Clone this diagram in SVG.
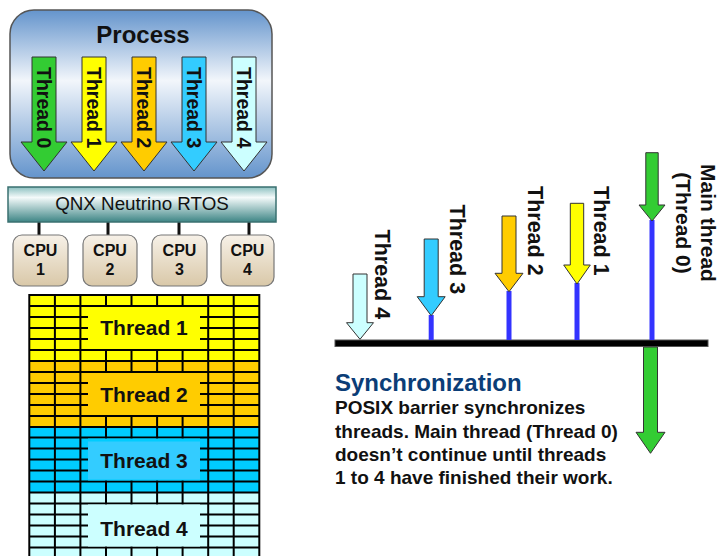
<svg xmlns="http://www.w3.org/2000/svg" width="719" height="556" viewBox="0 0 719 556">
<defs>
<linearGradient id="gProc" x1="0" y1="0" x2="0" y2="1">
<stop offset="0" stop-color="#6494cc"/>
<stop offset="0.42" stop-color="#f2f6fb"/>
<stop offset="1" stop-color="#6494cc"/>
</linearGradient>
<linearGradient id="gRtos" x1="0" y1="0" x2="0" y2="1">
<stop offset="0" stop-color="#8cc0c0"/>
<stop offset="0.3" stop-color="#f4fafa"/>
<stop offset="1" stop-color="#3d8585"/>
</linearGradient>
<linearGradient id="gCpu" x1="0" y1="0" x2="0" y2="1">
<stop offset="0" stop-color="#f7f1e8"/>
<stop offset="1" stop-color="#d9c8a8"/>
</linearGradient>
</defs>
<style>
.b{font-family:"Liberation Sans",Arial,sans-serif;font-weight:bold;fill:#111}
.r{font-family:"Liberation Sans",Arial,sans-serif;fill:#111}
.arr{stroke:#333;stroke-width:1}
.grid line{stroke:#000;stroke-width:2}
.blue{stroke:#3333ff;stroke-width:5}
</style>

<g id="process">
<rect x="10" y="10" width="262" height="168" rx="24" fill="url(#gProc)" stroke="#555" stroke-width="1.5"/>
<text class="b" x="143" y="43" font-size="24" text-anchor="middle">Process</text>
</g>
<g id="proc-thread0">
<path class="arr" fill="#33cc33" d="M32,57H56V142H67L44,171L21,142H32Z"/>
<text class="b" font-size="19.5" transform="translate(37,67) rotate(90)">Thread 0</text>
</g>
<g id="proc-thread1">
<path class="arr" fill="#ffff00" d="M82,57H106V142H117L94,171L71,142H82Z"/>
<text class="b" font-size="19.5" transform="translate(87,67) rotate(90)">Thread 1</text>
</g>
<g id="proc-thread2">
<path class="arr" fill="#ffcc00" d="M132,57H156V142H167L144,171L121,142H132Z"/>
<text class="b" font-size="19.5" transform="translate(137,67) rotate(90)">Thread 2</text>
</g>
<g id="proc-thread3">
<path class="arr" fill="#33ccff" d="M182,57H206V142H217L194,171L171,142H182Z"/>
<text class="b" font-size="19.5" transform="translate(187,67) rotate(90)">Thread 3</text>
</g>
<g id="proc-thread4">
<path class="arr" fill="#ccffff" d="M232,57H256V142H267L244,171L221,142H232Z"/>
<text class="b" font-size="19.5" transform="translate(237,67) rotate(90)">Thread 4</text>
</g>

<g id="connectors">
<line x1="39" y1="222" x2="39" y2="235" stroke="#111" stroke-width="3"/>
<line x1="108" y1="222" x2="108" y2="235" stroke="#111" stroke-width="3"/>
<line x1="179" y1="222" x2="179" y2="235" stroke="#111" stroke-width="3"/>
<line x1="249" y1="222" x2="249" y2="235" stroke="#111" stroke-width="3"/>
</g>

<g id="rtos">
<rect x="8" y="187" width="268" height="35" fill="url(#gRtos)" stroke="#3a7070" stroke-width="1.5"/>
<text class="r" x="142" y="210" font-size="18.8" text-anchor="middle">QNX Neutrino RTOS</text>
</g>

<g id="cpu1">
<rect x="13" y="235" width="55" height="51" rx="9" fill="url(#gCpu)" stroke="#777" stroke-width="1.2"/>
<text class="b" x="40.5" y="256" font-size="16" text-anchor="middle">CPU</text>
<text class="b" x="40.5" y="275" font-size="16" text-anchor="middle">1</text>
</g>
<g id="cpu2">
<rect x="83" y="235" width="54" height="51" rx="9" fill="url(#gCpu)" stroke="#777" stroke-width="1.2"/>
<text class="b" x="110" y="256" font-size="16" text-anchor="middle">CPU</text>
<text class="b" x="110" y="275" font-size="16" text-anchor="middle">2</text>
</g>
<g id="cpu3">
<rect x="152" y="235" width="55" height="51" rx="9" fill="url(#gCpu)" stroke="#777" stroke-width="1.2"/>
<text class="b" x="179.5" y="256" font-size="16" text-anchor="middle">CPU</text>
<text class="b" x="179.5" y="275" font-size="16" text-anchor="middle">3</text>
</g>
<g id="cpu4">
<rect x="221" y="235" width="53" height="51" rx="9" fill="url(#gCpu)" stroke="#777" stroke-width="1.2"/>
<text class="b" x="247.5" y="256" font-size="16" text-anchor="middle">CPU</text>
<text class="b" x="247.5" y="275" font-size="16" text-anchor="middle">4</text>
</g>

<g id="schedule">
<rect x="29" y="295" width="230" height="66" fill="#ffff00"/>
<rect x="29" y="361" width="230" height="66" fill="#ffcc00"/>
<rect x="29" y="427" width="230" height="66" fill="#00ccff"/>
<rect x="29" y="493" width="230" height="66" fill="#ccffff"/>
<g class="grid">
<line x1="29.3" y1="294" x2="29.3" y2="556"/>
<line x1="54.9" y1="294" x2="54.9" y2="556"/>
<line x1="80.4" y1="294" x2="80.4" y2="556"/>
<line x1="106" y1="294" x2="106" y2="556"/>
<line x1="131.5" y1="294" x2="131.5" y2="556"/>
<line x1="157.1" y1="294" x2="157.1" y2="556"/>
<line x1="182.6" y1="294" x2="182.6" y2="556"/>
<line x1="208.2" y1="294" x2="208.2" y2="556"/>
<line x1="233.7" y1="294" x2="233.7" y2="556"/>
<line x1="259.3" y1="294" x2="259.3" y2="556"/>
<line x1="29" y1="295" x2="260" y2="295"/>
<line x1="29" y1="306" x2="260" y2="306"/>
<line x1="29" y1="317" x2="260" y2="317"/>
<line x1="29" y1="328" x2="260" y2="328"/>
<line x1="29" y1="339" x2="260" y2="339"/>
<line x1="29" y1="350" x2="260" y2="350"/>
<line x1="29" y1="361" x2="260" y2="361"/>
<line x1="29" y1="372" x2="260" y2="372"/>
<line x1="29" y1="383" x2="260" y2="383"/>
<line x1="29" y1="394" x2="260" y2="394"/>
<line x1="29" y1="405" x2="260" y2="405"/>
<line x1="29" y1="416" x2="260" y2="416"/>
<line x1="29" y1="427" x2="260" y2="427"/>
<line x1="29" y1="437.5" x2="260" y2="437.5"/>
<line x1="29" y1="448.5" x2="260" y2="448.5"/>
<line x1="29" y1="459.5" x2="260" y2="459.5"/>
<line x1="29" y1="470.5" x2="260" y2="470.5"/>
<line x1="29" y1="481.5" x2="260" y2="481.5"/>
<line x1="29" y1="492.5" x2="260" y2="492.5"/>
<line x1="29" y1="503.5" x2="260" y2="503.5"/>
<line x1="29" y1="514.5" x2="260" y2="514.5"/>
<line x1="29" y1="525.5" x2="260" y2="525.5"/>
<line x1="29" y1="536.5" x2="260" y2="536.5"/>
<line x1="29" y1="547.5" x2="260" y2="547.5"/>
</g>
</g>
<g id="label-thread1">
<rect x="88" y="307" width="112" height="42" fill="#ffff00"/>
<text class="b" x="144" y="335" font-size="21" text-anchor="middle">Thread 1</text>
</g>
<g id="label-thread2">
<rect x="88" y="373" width="112" height="42" fill="#ffcc00"/>
<text class="b" x="144" y="401.5" font-size="21" text-anchor="middle">Thread 2</text>
</g>
<g id="label-thread3">
<rect x="88" y="438.5" width="112" height="42" fill="#00ccff"/>
<rect x="88" y="441.5" width="112" height="38" fill="#33ccff"/>
<text class="b" x="144" y="467.5" font-size="21" text-anchor="middle">Thread 3</text>
</g>
<g id="label-thread4">
<rect x="88" y="504.5" width="112" height="42" fill="#ccffff"/>
<text class="b" x="144" y="536" font-size="21" text-anchor="middle">Thread 4</text>
</g>

<g id="barrier">
<rect x="335" y="340" width="373" height="6.5" fill="#000" stroke="#555" stroke-width="1"/>
</g>
<g id="sync-lines">
<line class="blue" x1="431.2" y1="315" x2="431.2" y2="340"/>
<line class="blue" x1="509" y1="291" x2="509" y2="340"/>
<line class="blue" x1="577" y1="283" x2="577" y2="340"/>
<line class="blue" x1="652" y1="220" x2="652" y2="340"/>
</g>
<g id="sync-thread4">
<path class="arr" fill="#ccffff" d="M353,274H367V322.7H373.5L360,339.3L346.5,322.7H353Z"/>
<text class="b" font-size="21.5" transform="translate(375,229.5) rotate(90)">Thread 4</text>
</g>
<g id="sync-thread3">
<path class="arr" fill="#33ccff" d="M424.2,239H438.2V296.7H445.2L431.2,315.7L417.2,296.7H424.2Z"/>
<text class="b" font-size="21.5" transform="translate(449.5,204.5) rotate(90)">Thread 3</text>
</g>
<g id="sync-thread2">
<path class="arr" fill="#ffcc00" d="M502,216H516V273.3H523L509,291.7L495,273.3H502Z"/>
<text class="b" font-size="21.5" transform="translate(528,186) rotate(90)">Thread 2</text>
</g>
<g id="sync-thread1">
<path class="arr" fill="#ffff00" d="M570.3,203.3H583.7V265H590.3L577,284L563.7,265H570.3Z"/>
<text class="b" font-size="21.5" transform="translate(593.5,186) rotate(90)">Thread 1</text>
</g>
<g id="sync-main">
<path class="arr" fill="#33cc33" d="M645.8,152.7H658.2V205H665L652,221L639,205H645.8Z"/>
<text class="b" font-size="21" text-anchor="middle" transform="translate(700.5,223) rotate(90)">Main thread</text>
<text class="b" font-size="21" text-anchor="middle" transform="translate(675.5,223) rotate(90)">(Thread 0)</text>
<path class="arr" fill="#33cc33" d="M643.5,347H657.5V432.3H665L650.5,453.3L636,432.3H643.5Z"/>
</g>

<g id="caption">
<text class="b" x="335" y="390.5" font-size="24" style="fill:#0b3d77">Synchronization</text>
<text class="b" x="335" y="414.3" font-size="19">POSIX barrier synchronizes</text>
<text class="b" x="335" y="437.8" font-size="19">threads. Main thread (Thread 0)</text>
<text class="b" x="335" y="461" font-size="19">doesn’t continue until threads</text>
<text class="b" x="335" y="484.3" font-size="19">1 to 4 have finished their work.</text>
</g>
</svg>
